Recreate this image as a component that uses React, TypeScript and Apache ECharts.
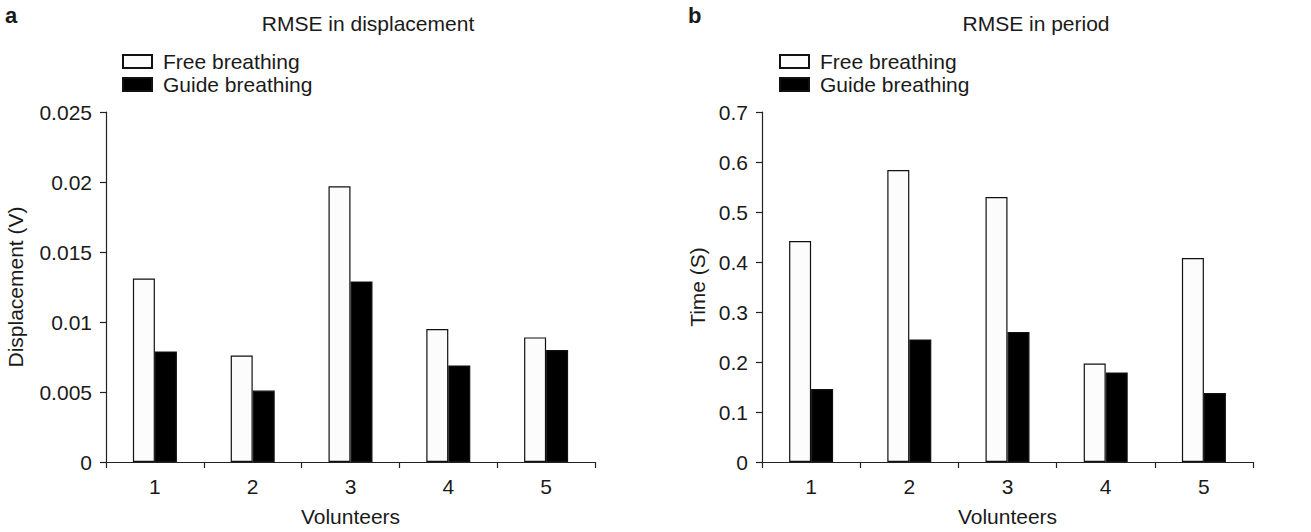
import React, { useEffect, useRef } from "react";
import * as echarts from "echarts";

const volunteers = ["1", "2", "3", "4", "5"];
const dispFree = [0.0131, 0.0076, 0.0197, 0.0095, 0.0089];
const dispGuide = [0.0079, 0.0051, 0.0129, 0.0069, 0.0080];
const periodFree = [0.442, 0.584, 0.530, 0.197, 0.408];
const periodGuide = [0.146, 0.245, 0.260, 0.179, 0.138];
const seriesNames = ["Free breathing", "Guide breathing"];

const FONT = "'Liberation Sans', Arial, sans-serif";
const TXT = "#1a1a1a";
const AX = "#222";

export default function App() {
  const ref = useRef<HTMLDivElement>(null);
  useEffect(() => {
    if (!ref.current) return;
    const chart = echarts.init(ref.current, undefined, { renderer: "svg" });
    const xAxisBase = (gridIndex: number) => ({
      type: "category",
      gridIndex,
      data: volunteers,
      name: "Volunteers",
      nameLocation: "middle",
      nameGap: 44,
      nameTextStyle: { fontSize: 21, color: TXT, fontFamily: FONT },
      axisLine: { lineStyle: { color: AX, width: 1.2 } },
      axisTick: { show: true, length: 6, lineStyle: { color: AX, width: 1.2 } },
      axisLabel: { fontSize: 21, color: TXT, fontFamily: FONT, margin: 14 },
      splitLine: { show: false },
    });
    const freeStyle = { color: "#fcfcfc", borderColor: "#111", borderWidth: 1.2 };
    const guideStyle = { color: "#000", borderColor: "#111", borderWidth: 1.2 };
    const legendBase = (left: number) => ({
      orient: "vertical",
      left,
      top: 45,
      icon: "rect",
      itemWidth: 29,
      itemHeight: 13,
      itemGap: 0,
      data: seriesNames.map((n) => ({ name: n })),
      textStyle: { fontSize: 21, color: TXT, fontFamily: FONT, lineHeight: 23, padding: [0, 0, 0, 6] },
    });
    chart.setOption({
      animation: false,
      backgroundColor: "#fff",
      textStyle: { fontFamily: FONT },
      title: [
        { text: "RMSE in displacement", left: 363, top: 8, textAlign: "center", textStyle: { fontSize: 21, fontWeight: "normal", color: TXT, fontFamily: FONT } },
        { text: "RMSE in period", left: 1031, top: 8, textAlign: "center", textStyle: { fontSize: 21, fontWeight: "normal", color: TXT, fontFamily: FONT } },
      ],
      graphic: [
        { type: "text", left: 5, top: 4, style: { text: "a", font: `bold 22px ${FONT}`, fill: TXT } },
        { type: "text", left: 688, top: 4, style: { text: "b", font: `bold 22px ${FONT}`, fill: TXT } },
      ],
      legend: [legendBase(117), legendBase(774)],
      grid: [
        { left: 106, right: 716, top: 112, bottom: 69 },
        { left: 762, right: 58, top: 112, bottom: 69 },
      ],
      xAxis: [xAxisBase(0), xAxisBase(1)],
      yAxis: [
        {
          type: "value",
          gridIndex: 0,
          min: 0,
          max: 0.025,
          interval: 0.005,
          name: "Displacement (V)",
          nameLocation: "middle",
          nameGap: 80,
          nameTextStyle: { fontSize: 21, color: TXT, fontFamily: FONT },
          axisLine: { show: true, lineStyle: { color: AX, width: 1.2 } },
          axisTick: { show: true, length: 6, lineStyle: { color: AX, width: 1.2 } },
          axisLabel: { fontSize: 21, color: TXT, fontFamily: FONT, margin: 14 },
          splitLine: { show: false },
        },
        {
          type: "value",
          gridIndex: 1,
          min: 0,
          max: 0.7,
          interval: 0.1,
          name: "Time (S)",
          nameLocation: "middle",
          nameGap: 54,
          nameTextStyle: { fontSize: 21, color: TXT, fontFamily: FONT },
          axisLine: { show: true, lineStyle: { color: AX, width: 1.2 } },
          axisTick: { show: true, length: 6, lineStyle: { color: AX, width: 1.2 } },
          axisLabel: { fontSize: 21, color: TXT, fontFamily: FONT, margin: 14 },
          splitLine: { show: false },
        },
      ],
      series: [
        { name: seriesNames[0], type: "bar", xAxisIndex: 0, yAxisIndex: 0, data: dispFree, barWidth: 22, barGap: "0%", itemStyle: freeStyle },
        { name: seriesNames[1], type: "bar", xAxisIndex: 0, yAxisIndex: 0, data: dispGuide, barWidth: 22, barGap: "0%", itemStyle: guideStyle },
        { name: seriesNames[0], type: "bar", xAxisIndex: 1, yAxisIndex: 1, data: periodFree, barWidth: 22, barGap: "0%", itemStyle: freeStyle },
        { name: seriesNames[1], type: "bar", xAxisIndex: 1, yAxisIndex: 1, data: periodGuide, barWidth: 22, barGap: "0%", itemStyle: guideStyle },
      ],
    });
    return () => chart.dispose();
  }, []);
  return (
    <div
      ref={ref}
      style={{ position: "absolute", left: 0, top: 0, width: 1311, height: 532, background: "#fff" }}
    />
  );
}
